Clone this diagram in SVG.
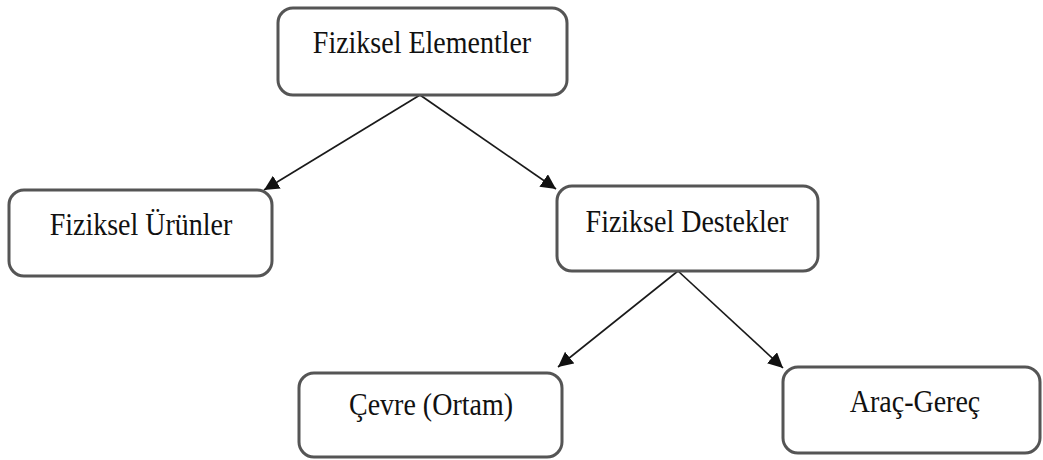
<svg xmlns="http://www.w3.org/2000/svg" width="1043" height="460" viewBox="0 0 1043 460">
  <style>
    .box { fill: #ffffff; stroke: #555555; stroke-width: 3; }
    .lbl { font-family: "Liberation Serif", "Times New Roman", serif; font-size: 28px; fill: #111111; text-anchor: middle; }
    .edge { stroke: #1a1a1a; stroke-width: 1.7; fill: none; marker-end: url(#arrow); }
  </style>
  <defs>
    <marker id="arrow" viewBox="0 0 10 10" refX="10" refY="5" markerWidth="15" markerHeight="15" markerUnits="userSpaceOnUse" orient="auto">
      <path d="M0,0 L10,5 L0,10 z" fill="#111111"/>
    </marker>
  </defs>

  <g id="connectors">
    <line class="edge" x1="420" y1="95" x2="264" y2="190"/>
    <line class="edge" x1="420" y1="95" x2="556" y2="189"/>
    <line class="edge" x1="678" y1="271" x2="558" y2="367"/>
    <line class="edge" x1="678" y1="271" x2="783" y2="368"/>
  </g>

  <g id="fiziksel-elementler">
    <rect class="box" x="278" y="8" width="289" height="87" rx="15"/>
    <text class="lbl" transform="translate(422,53) scale(1,1.15)">Fiziksel Elementler</text>
  </g>

  <g id="fiziksel-urunler">
    <rect class="box" x="9" y="190" width="263" height="86" rx="15"/>
    <text class="lbl" transform="translate(141,235) scale(1,1.15)">Fiziksel Ürünler</text>
  </g>

  <g id="fiziksel-destekler">
    <rect class="box" x="557" y="186" width="261" height="85" rx="15"/>
    <text class="lbl" transform="translate(687,232) scale(1,1.15)">Fiziksel Destekler</text>
  </g>

  <g id="cevre-ortam">
    <rect class="box" x="299" y="373" width="263" height="84" rx="15"/>
    <text class="lbl" transform="translate(431,415) scale(1,1.15)">Çevre (Ortam)</text>
  </g>

  <g id="arac-gerec">
    <rect class="box" x="783" y="367" width="257" height="86" rx="15"/>
    <text class="lbl" transform="translate(915,412) scale(1,1.15)">Araç-Gereç</text>
  </g>
</svg>
